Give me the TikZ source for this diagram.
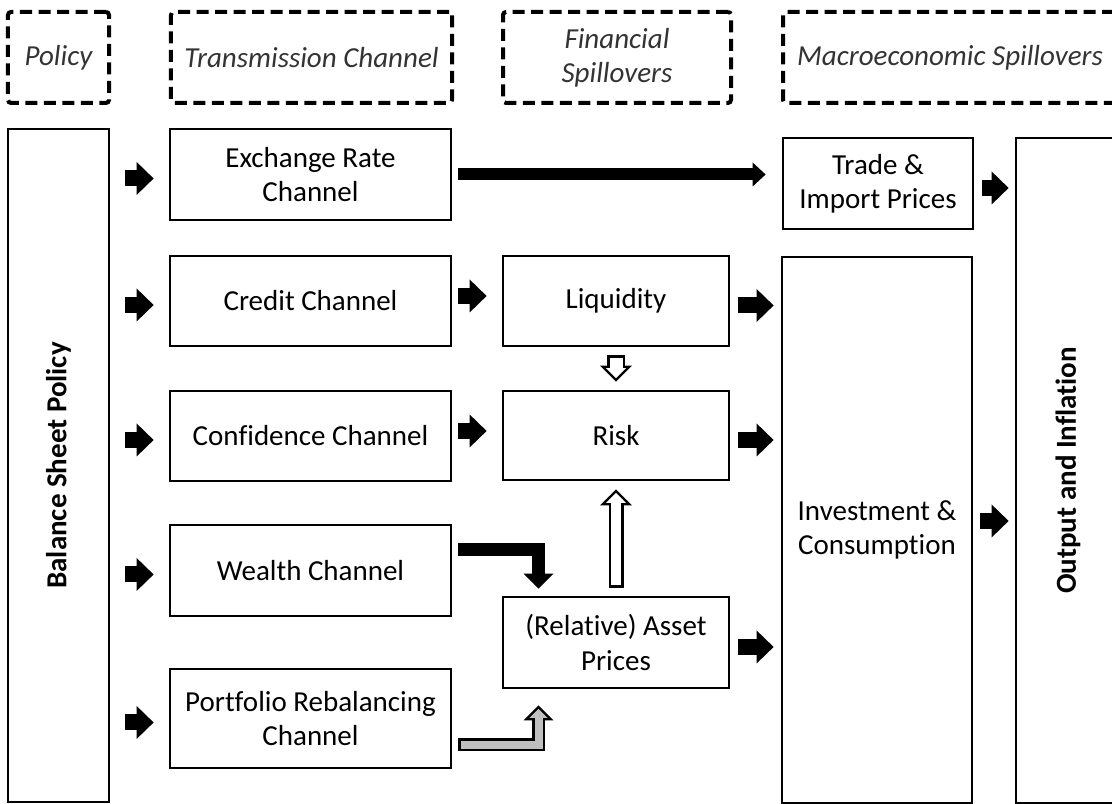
\documentclass[tikz,border=0pt]{standalone}
\usepackage{fontspec}
\setmainfont{Carlito}[Ligatures=NoCommon]
\usepackage{graphicx}
\usetikzlibrary{arrows.meta}
\tikzset{
  kasse/.style={draw, line width=0.55mm, inner sep=0pt, align=center, font=\fontsize{16.5}{19.5}\selectfont},
  overskrift/.style={draw, dash pattern=on 2.4mm off 1.3mm, line width=0.8mm, rounded corners=0.6mm, inner sep=0pt, align=center, minimum height=18.2mm, text=black!80, font=\fontsize{16.5}{19.5}\selectfont\itshape},
  pil/.style={line width=3.2mm, -{Triangle[length=3.4mm,width=6.6mm,line width=0pt]}},
  langpil/.style={line width=2.4mm, -{Triangle[length=2.6mm,width=4.8mm,line width=0pt]}},
  knaekpil/.style={line width=2.6mm, -{Triangle[length=3mm,width=6mm,line width=0pt]}},
  hulpil/.style={-{Triangle[length=3.2mm,width=6.4mm,line width=0pt]}, shorten <=1.6mm, shorten >=1.6mm},
  hulpilinde/.style={white, -{Triangle[length=2mm,width=4mm,line width=0pt]}, shorten <=2.1mm, shorten >=2.3mm}
}
\begin{document}
\begin{tikzpicture}[x=0.2mm,y=0.2mm]
  \useasboundingbox (0,0) rectangle (1112,804);
  \clip (0,0) rectangle (1112,804);
  %overskrifter
	\node[overskrift, minimum width=20.2mm] (hpol) at (58.5,746.5) {Policy};
	\node[overskrift, minimum width=56.2mm] (htrans) at (311.5,746.5) {Transmission Channel};
	\node[overskrift, minimum width=45.6mm] (hfin) at (617,746.5) {Financial\\Spillovers};
	\node[overskrift, minimum width=66.8mm] (hmacro) at (950,746.5) {Macroeconomic Spillovers};

  %politik
	\node[kasse, minimum width=20.2mm, minimum height=134.6mm] (bsp) at (58.5,338.5) {\rotatebox{90}{\bfseries Balance Sheet Policy}};

  %kanaler
	\node[kasse, minimum width=56.2mm, minimum height=18.2mm] (er) at (310.5,629.5) {Exchange Rate\\Channel};
	\node[kasse, minimum width=56.2mm, minimum height=18mm] (cred) at (310.5,503) {Credit Channel};
	\node[kasse, minimum width=56.2mm, minimum height=18mm] (conf) at (310.5,368) {Confidence Channel};
	\node[kasse, minimum width=56.2mm, minimum height=18.2mm] (wealth) at (310.5,233.5) {Wealth Channel};
	\node[kasse, minimum width=56.2mm, minimum height=19.8mm] (port) at (310.5,85.5) {Portfolio Rebalancing\\Channel};

  %finansielle spillovers
	\node[kasse, minimum width=45.2mm, minimum height=18mm] (liq) at (616,503) {Liquidity};
	\node[kasse, minimum width=45.2mm, minimum height=17.8mm] (risk) at (616,368.5) {Risk};
	\node[kasse, minimum width=45.2mm, minimum height=18.2mm] (asset) at (616,161.5) {(Relative) Asset\\Prices};

  %makro
	\node[kasse, minimum width=38mm, minimum height=18.2mm] (trade) at (878,620.5) {Trade \&\\Import Prices};
	\node[kasse, minimum width=38mm, minimum height=109.2mm] (inv) at (877,274) {Investment \&\\Consumption};
	\node[kasse, minimum width=20.8mm, minimum height=133mm] (out) at (1068,333.5) {\rotatebox{90}{\bfseries Output and Inflation}};

  %pile fra politik
	\foreach \k in {er,cred,conf,wealth,port}
		\draw[pil, shorten <=3mm, shorten >=3mm] ([yshift=-0.8mm]bsp.east |- \k.west) -- ([yshift=-0.8mm]\k.west);

  %pile til finansielle spillovers
	\draw[pil, shorten <=1.2mm, shorten >=3mm] ([yshift=1mm]cred.east) -- ([yshift=1mm]liq.west);
	\draw[pil, shorten <=1.2mm, shorten >=3mm] ([yshift=1mm]conf.east) -- ([yshift=1mm]conf.east -| risk.west);
	\draw[langpil, shorten <=1.2mm, shorten >=3.2mm] (er.east) -- (er.east -| trade.west);

  %pile til investering og output
	\foreach \k in {liq,risk,asset}
		\draw[pil, shorten <=1.6mm, shorten >=1.4mm] ([yshift=-0.9mm]\k.east) -- ([yshift=-0.9mm]\k.east -| inv.west);
	\draw[pil, shorten <=1.6mm, shorten >=1.2mm] ([yshift=-0.9mm]trade.east) -- ([yshift=-0.9mm]trade.east -| out.west);
	\draw[pil, shorten <=1.4mm, shorten >=1.2mm] ([yshift=1.8mm]inv.east) -- ([yshift=1.8mm]inv.east -| out.west);

  %hule pile mod risiko
	\draw[hulpil, line width=3.6mm] (liq.south) -- (risk.north);
	\draw[hulpilinde, line width=2.6mm] (liq.south) -- (risk.north);
	\draw[hulpil, line width=3mm] (asset.north) -- (risk.south);
	\draw[hulpilinde, line width=2mm] (asset.north) -- (risk.south);

  %knaekpile mod aktivpriser
	\draw[knaekpil] ([shift={(6,21)}]wealth.east) -| ([shift={(-77.5,7)}]asset.north);
	\draw[knaekpil] ([shift={(6,-26.5)}]port.east) -| ([shift={(-77.5,-16)}]asset.south);
	\draw[gray!50, line width=1.6mm, -{Triangle[length=1.8mm,width=3.6mm,line width=0pt]}, shorten <=0.5mm, shorten >=0.7mm] ([shift={(6,-26.5)}]port.east) -| ([shift={(-77.5,-16)}]asset.south);
\end{tikzpicture}
\end{document}
